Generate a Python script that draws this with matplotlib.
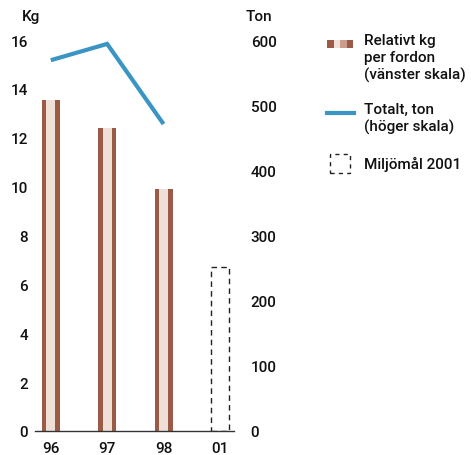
import numpy as np
import matplotlib.pyplot as plt
from matplotlib.patches import Rectangle
from matplotlib.lines import Line2D

plt.rcParams['font.family'] = ['Roboto', 'DejaVu Sans']
plt.rcParams['font.weight'] = 'medium'

years = ['96', '97', '98', '01']
kg_per_vehicle = [13.55, 12.4, 9.9]      # relativt kg per fordon
goal_2001 = 6.7                          # miljömål 2001
total_ton = [569, 594, 471]              # totalt, ton

brown = '#9b5a46'
light = '#efe0d7'
blue = '#3a95c5'
txt = '#111111'
fs = 11

fig = plt.figure(figsize=(4.71, 4.56), dpi=100)
ax = fig.add_axes([35/471, 24/456, 199/471, 391/456])
ax2 = ax.twinx()

x = np.arange(len(years))
w = 0.32
# striped bars: brown outer, light core
ax.bar(x[:3], kg_per_vehicle, width=w, color=brown, linewidth=0)
ax.bar(x[:3], kg_per_vehicle, width=w * 0.5, color=light, linewidth=0)
ax.bar(x[3], goal_2001, width=w, facecolor='none', edgecolor='#222222',
       linewidth=1, linestyle=(0, (4, 3)))

ax2.plot(x[:3], total_ton, color=blue, lw=3, solid_capstyle='butt',
         solid_joinstyle='miter')

ax.set_xlim(-0.28, 3.25)
ax.set_ylim(0, 16)
ax2.set_ylim(0, 600)
ax.set_yticks(range(0, 17, 2))
ax2.set_yticks(range(0, 601, 100))
ax.set_xticks(x)
ax.set_xticklabels(years)

for a in (ax, ax2):
    for s in a.spines.values():
        s.set_visible(False)
    a.tick_params(length=0, labelsize=fs, colors=txt)
ax.spines['bottom'].set_visible(True)
ax.spines['bottom'].set_color('#333333')
ax.spines['bottom'].set_linewidth(1)
ax.tick_params(axis='y', pad=5)
ax.tick_params(axis='x', pad=7)
ax2.tick_params(axis='y', pad=12)

fig.text(22/471, 1 - 17/456, 'Kg', fontsize=fs, color=txt, va='center')
fig.text(246/471, 1 - 17/456, 'Ton', fontsize=fs, color=txt, va='center')


# legend
def fx(px):
    return px / 471


def fy(py):
    return 1 - py / 456


for i, c in enumerate([brown, light, '#c99c8c', brown]):
    fig.patches.append(Rectangle((fx(327 + i * 6.5), fy(49)), fx(6.5), 8/456,
                                 transform=fig.transFigure, color=c, lw=0))
fig.text(fx(364), fy(34), 'Relativt kg\nper fordon\n(vänster skala)',
         fontsize=fs, color=txt, va='top', linespacing=1.25)
fig.lines.append(Line2D([fx(327), fx(354)], [fy(114), fy(114)], color=blue,
                        lw=3, transform=fig.transFigure))
fig.text(fx(364), fy(103), 'Totalt, ton\n(höger skala)',
         fontsize=fs, color=txt, va='top', linespacing=1.25)
fig.patches.append(Rectangle((fx(330), fy(174)), fx(20), 19/456,
                             transform=fig.transFigure, facecolor='none',
                             edgecolor='#222222', lw=1, linestyle=(0, (3, 3))))
fig.text(fx(364), fy(164), 'Miljömål 2001', fontsize=fs, color=txt,
         va='center')

fig.savefig('out.png', dpi=100)
